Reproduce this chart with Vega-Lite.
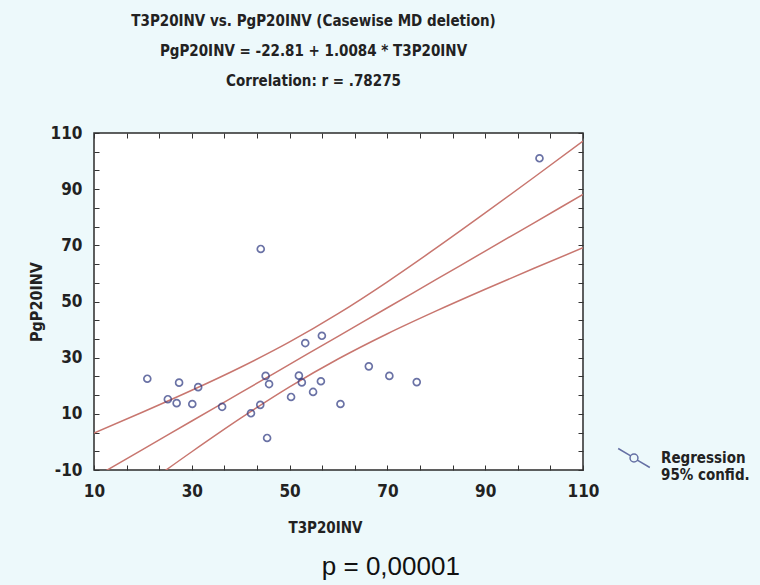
{
  "$schema": "https://vega.github.io/schema/vega-lite/v6.json",
  "autosize": "none",
  "width": 489,
  "height": 337,
  "padding": {"left": 94, "top": 133, "right": 177, "bottom": 115},
  "background": "#edf9fb",
  "config": {
    "view": {"fill": "white", "stroke": "#2b2b2b", "strokeWidth": 1.5},
    "font": "DejaVu Sans Condensed, DejaVu Sans, sans-serif"
  },
  "title": {
    "text": ["T3P20INV vs. PgP20INV (Casewise MD deletion)", "PgP20INV = -22.81 + 1.0084 * T3P20INV", "Correlation: r = .78275"],
    "font": "DejaVu Sans Condensed, DejaVu Sans, sans-serif",
    "fontSize": 15,
    "fontWeight": "bold",
    "color": "#222222",
    "lineHeight": 30,
    "anchor": "middle",
    "frame": "group",
    "dx": -25,
    "offset": 35
  },
  "datasets": {
    "pts": [
      {"T3P20INV": 20.9, "PgP20INV": 22.5},
      {"T3P20INV": 27.4, "PgP20INV": 21.1},
      {"T3P20INV": 25.1, "PgP20INV": 15.2},
      {"T3P20INV": 26.9, "PgP20INV": 13.8},
      {"T3P20INV": 30.1, "PgP20INV": 13.5},
      {"T3P20INV": 31.3, "PgP20INV": 19.5},
      {"T3P20INV": 36.2, "PgP20INV": 12.5},
      {"T3P20INV": 44.1, "PgP20INV": 68.7},
      {"T3P20INV": 45.1, "PgP20INV": 23.5},
      {"T3P20INV": 45.8, "PgP20INV": 20.6},
      {"T3P20INV": 42.1, "PgP20INV": 10.2},
      {"T3P20INV": 44.0, "PgP20INV": 13.2},
      {"T3P20INV": 45.4, "PgP20INV": 1.4},
      {"T3P20INV": 50.3, "PgP20INV": 16.0},
      {"T3P20INV": 51.9, "PgP20INV": 23.6},
      {"T3P20INV": 52.5, "PgP20INV": 21.2},
      {"T3P20INV": 53.2, "PgP20INV": 35.2},
      {"T3P20INV": 56.6, "PgP20INV": 37.8},
      {"T3P20INV": 54.8, "PgP20INV": 17.8},
      {"T3P20INV": 56.4, "PgP20INV": 21.6},
      {"T3P20INV": 60.4, "PgP20INV": 13.5},
      {"T3P20INV": 66.2, "PgP20INV": 26.9},
      {"T3P20INV": 70.4, "PgP20INV": 23.5},
      {"T3P20INV": 76.0, "PgP20INV": 21.3},
      {"T3P20INV": 101.1, "PgP20INV": 101.0}
    ],
    "fit": [
      {"x": 10, "y": -12.73, "line": "fit"},
      {"x": 20, "y": -2.64, "line": "fit"},
      {"x": 30, "y": 7.44, "line": "fit"},
      {"x": 40, "y": 17.53, "line": "fit"},
      {"x": 50, "y": 27.61, "line": "fit"},
      {"x": 60, "y": 37.69, "line": "fit"},
      {"x": 70, "y": 47.78, "line": "fit"},
      {"x": 80, "y": 57.86, "line": "fit"},
      {"x": 90, "y": 67.95, "line": "fit"},
      {"x": 100, "y": 78.03, "line": "fit"},
      {"x": 110, "y": 88.11, "line": "fit"},
      {"x": 10, "y": 3.15, "line": "upper"},
      {"x": 20, "y": 10.64, "line": "upper"},
      {"x": 30, "y": 18.38, "line": "upper"},
      {"x": 40, "y": 26.6, "line": "upper"},
      {"x": 50, "y": 35.61, "line": "upper"},
      {"x": 60, "y": 45.77, "line": "upper"},
      {"x": 70, "y": 57.03, "line": "upper"},
      {"x": 80, "y": 69.06, "line": "upper"},
      {"x": 90, "y": 81.53, "line": "upper"},
      {"x": 100, "y": 94.24, "line": "upper"},
      {"x": 110, "y": 107.09, "line": "upper"},
      {"x": 10, "y": -28.6, "line": "lower"},
      {"x": 20, "y": -15.92, "line": "lower"},
      {"x": 30, "y": -3.5, "line": "lower"},
      {"x": 40, "y": 8.46, "line": "lower"},
      {"x": 50, "y": 19.61, "line": "lower"},
      {"x": 60, "y": 29.61, "line": "lower"},
      {"x": 70, "y": 38.53, "line": "lower"},
      {"x": 80, "y": 46.66, "line": "lower"},
      {"x": 90, "y": 54.37, "line": "lower"},
      {"x": 100, "y": 61.82, "line": "lower"},
      {"x": 110, "y": 69.13, "line": "lower"}
    ],
    "note": [
      {"x": 70.7, "y": -44.6, "text": "p = 0,00001"}
    ]
  },
  "layer": [
    {
      "data": {"name": "fit"},
      "mark": {"type": "line", "color": "#c8766f", "strokeWidth": 1.5, "clip": true, "interpolate": "monotone"},
      "encoding": {
        "x": {
          "field": "x", "type": "quantitative",
          "scale": {"domain": [10, 110], "nice": false, "zero": false},
          "axis": {
            "orient": "top", "labels": false, "title": null, "domain": false, "grid": false,
            "tickSize": -5, "tickColor": "#333333",
            "values": [10, 16.667, 23.333, 30, 36.667, 43.333, 50, 56.667, 63.333, 70, 76.667, 83.333, 90, 96.667, 103.333, 110]
          }
        },
        "y": {
          "field": "y", "type": "quantitative",
          "scale": {"domain": [-10, 110], "nice": false, "zero": false},
          "axis": {
            "orient": "right", "labels": false, "title": null, "domain": false, "grid": false,
            "tickSize": -5, "tickColor": "#333333",
            "values": [-10, -3.333, 3.333, 10, 16.667, 23.333, 30, 36.667, 43.333, 50, 56.667, 63.333, 70, 76.667, 83.333, 90, 96.667, 103.333, 110]
          }
        },
        "detail": {"field": "line", "type": "nominal"}
      }
    },
    {
      "data": {"name": "pts"},
      "mark": {"type": "point", "filled": false, "size": 48, "strokeWidth": 1.7},
      "encoding": {
        "x": {
          "field": "T3P20INV", "type": "quantitative",
          "scale": {"domain": [10, 110], "nice": false, "zero": false},
          "axis": {
            "orient": "bottom", "title": "T3P20INV", "domain": false, "grid": false,
            "tickSize": -5, "tickColor": "#333333",
            "values": [10, 16.667, 23.333, 30, 36.667, 43.333, 50, 56.667, 63.333, 70, 76.667, 83.333, 90, 96.667, 103.333, 110],
            "labelExpr": "abs(datum.value - round(datum.value)) < 0.01 && (round(datum.value) + 10) % 20 == 0 ? toString(round(datum.value)) : ''",
            "labelOverlap": false, "labelFlush": false,
            "labelFontSize": 17, "labelFontWeight": "bold", "labelColor": "#222222", "labelPadding": 18,
            "titleFontSize": 15, "titleFontWeight": "bold", "titleColor": "#222222", "titlePadding": 21, "titleX": 231
          }
        },
        "y": {
          "field": "PgP20INV", "type": "quantitative",
          "scale": {"domain": [-10, 110], "nice": false, "zero": false},
          "axis": {
            "orient": "left", "title": "PgP20INV", "domain": false, "grid": false,
            "tickSize": -5, "tickColor": "#333333",
            "values": [-10, -3.333, 3.333, 10, 16.667, 23.333, 30, 36.667, 43.333, 50, 56.667, 63.333, 70, 76.667, 83.333, 90, 96.667, 103.333, 110],
            "labelExpr": "abs(datum.value - round(datum.value)) < 0.01 && (round(datum.value) + 10) % 20 == 0 ? toString(round(datum.value)) : ''",
            "labelOverlap": false, "labelFlush": false,
            "labelFontSize": 17, "labelFontWeight": "bold", "labelColor": "#222222", "labelPadding": 17,
            "titleFontSize": 16, "titleFontWeight": "bold", "titleColor": "#222222", "titlePadding": 6
          }
        },
        "color": {
          "datum": "Regression",
          "scale": {"range": ["#2c3780"]},
          "legend": {
            "orient": "none", "legendX": 523, "legendY": 308,
            "title": null, "padding": 0,
            "symbolType": "M-1,-0.6L-0.21,-0.13M0.21,0.13L1,0.6M0.25,0A0.25,0.25 0 1 1 -0.25,0A0.25,0.25 0 1 1 0.25,0",
            "symbolSize": 1000, "symbolStrokeWidth": 1.5, "symbolStrokeColor": "#333333", "symbolFillColor": "transparent",
            "labelExpr": "['Regression', '95% confid.']",
            "labelFontSize": 15, "labelFontWeight": "bold", "labelColor": "#222222", "labelOffset": 10,
            "labelLineHeight": 20, "labelBaseline": "middle", "labelLimit": 200
          }
        }
      }
    },
    {
      "data": {"name": "note"},
      "mark": {"type": "text", "font": "Liberation Sans, Arial, sans-serif", "fontSize": 26, "color": "#111111", "baseline": "middle", "align": "center"},
      "encoding": {
        "x": {"field": "x", "type": "quantitative", "axis": null},
        "y": {"field": "y", "type": "quantitative", "axis": null},
        "text": {"field": "text"}
      }
    }
  ]
}
